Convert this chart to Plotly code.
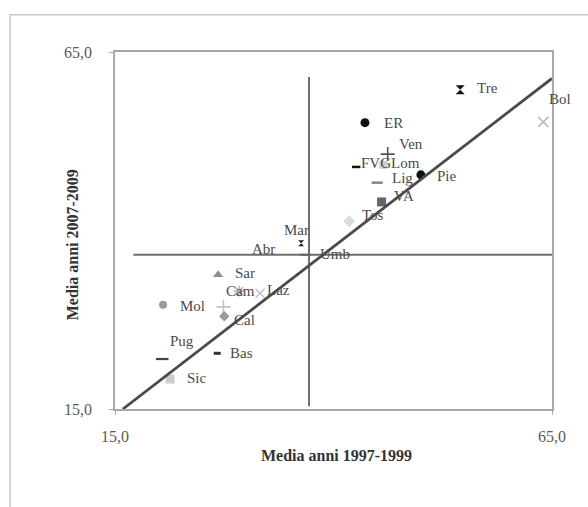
import plotly.graph_objects as go

# Regional averages: 1997-1999 (x) vs 2007-2009 (y)
regions = ["Tre", "Bol", "ER", "Ven", "FVG", "Lom", "Lig", "Pie", "VA", "Tos",
           "Mar", "Abr", "Umb", "Sar", "Cam", "Laz", "Mol", "Cal", "Pug", "Bas", "Sic"]
avg_1997_1999 = [54.5, 64.0, 43.6, 46.2, 42.6, 45.7, 45.0, 50.0, 45.5, 41.8,
                 36.3, 27.4, 36.8, 26.8, 29.2, 31.6, 20.5, 27.5, 20.4, 26.7, 21.3]
avg_2007_2009 = [59.7, 55.2, 55.1, 50.7, 48.9, 49.2, 46.7, 47.8, 44.0, 41.3,
                 38.2, 29.3, 36.6, 33.8, 31.5, 31.2, 29.6, 28.0, 22.0, 22.8, 19.2]

# Linear trend and the two mean lines
trend_x = [15.9, 65.0]
trend_y = [15.0, 61.3]
mean_x = 37.2
mean_y = 36.6
mean_x_span = [15.4, 61.5]
mean_y_span = [17.1, 65.7]

axis_ticks = [15, 65]
axis_tick_text = ["15,0", "65,0"]

# marker style per region: symbol, size, colour, line width
styles = {
    "Tre": ("hourglass", 9, "#111111", 0),
    "Bol": ("x-thin-open", 10, "#b5b5b5", 1.6),
    "ER": ("circle", 9, "#111111", 0),
    "Ven": ("cross-thin-open", 10, "#555555", 1.6),
    "FVG": ("line-ew-open", 6, "#111111", 2.5),
    "Lom": ("square", 8, "#cfcfcf", 0),
    "Lig": ("line-ew-open", 8, "#8a8a8a", 2.6),
    "Pie": ("circle", 9, "#111111", 0),
    "VA": ("square", 9, "#666666", 0),
    "Tos": ("diamond", 9, "#dcdcdc", 0),
    "Mar": ("hourglass", 6, "#222222", 0),
    "Abr": ("cross-thin-open", 10, "#c4c4c4", 1.6),
    "Umb": ("line-ew-open", 8, "#666666", 2),
    "Sar": ("triangle-up", 9, "#8f8f8f", 0),
    "Cam": ("asterisk-open", 9, "#b0b0b0", 1.4),
    "Laz": ("x-thin-open", 9, "#c0c0c0", 1.4),
    "Mol": ("circle", 8, "#9a9a9a", 0),
    "Cal": ("diamond", 8, "#9a9a9a", 0),
    "Pug": ("line-ew-open", 9, "#444444", 2.2),
    "Bas": ("line-ew-open", 5, "#333333", 3),
    "Sic": ("square", 9, "#cccccc", 0),
}

# label offsets in pixels (right, up) from each marker
label_shift = {
    "Tre": (15, 2), "Bol": (4, 23), "ER": (17, 0), "Ven": (9, 10),
    "FVG": (3, 4), "Lom": (6, 2), "Lig": (13, 5), "Pie": (14, -1),
    "VA": (10, 6), "Tos": (11, 6), "Mar": (-19, 13), "Abr": (27, 58),
    "Umb": (12, 1), "Sar": (15, 2), "Cam": (-15, 0), "Laz": (5, 3),
    "Mol": (15, -1), "Cal": (8, -4), "Pug": (6, 18), "Bas": (11, 0),
    "Sic": (15, 1),
}

serif = "Liberation Serif"
fig = go.Figure()

# mean reference lines
fig.add_trace(go.Scatter(x=[mean_x, mean_x], y=mean_x_span, mode="lines",
                         line=dict(color="#6e6e6e", width=2), hoverinfo="skip",
                         showlegend=False, cliponaxis=False))
fig.add_trace(go.Scatter(x=mean_y_span, y=[mean_y, mean_y], mode="lines",
                         line=dict(color="#6e6e6e", width=2), hoverinfo="skip",
                         showlegend=False, cliponaxis=False))

# regional points
for name, xv, yv in zip(regions, avg_1997_1999, avg_2007_2009):
    sym, size, col, lw = styles[name]
    fig.add_trace(go.Scatter(
        x=[xv], y=[yv], mode="markers", name=name, showlegend=False,
        marker=dict(symbol=sym, size=size, color=col,
                    line=dict(color=col, width=lw)),
        cliponaxis=False))

# trend line on top
fig.add_trace(go.Scatter(x=trend_x, y=trend_y, mode="lines",
                         line=dict(color="#4a4a4a", width=2.8), hoverinfo="skip",
                         showlegend=False, cliponaxis=False))

annotations = []
for name, xv, yv in zip(regions, avg_1997_1999, avg_2007_2009):
    dx, dy = label_shift[name]
    annotations.append(dict(
        x=xv, y=yv, xref="x", yref="y", text=name, showarrow=False,
        xanchor="left", yanchor="middle", xshift=dx, yshift=dy,
        font=dict(family=serif, size=15, color="#4a4a4a")))

annotations.append(dict(
    x=0.508, y=-0.13, xref="paper", yref="paper", text="<b>Media anni 1997-1999</b>",
    showarrow=False, xanchor="center", yanchor="middle",
    font=dict(family=serif, size=16, color="#333333")))
annotations.append(dict(
    x=-0.098, y=0.459, xref="paper", yref="paper", text="<b>Media anni 2007-2009</b>",
    showarrow=False, xanchor="center", yanchor="middle", textangle=-90,
    font=dict(family=serif, size=16, color="#333333")))

fig.update_layout(
    width=588, height=507,
    margin=dict(l=115, r=36, t=52, b=98),
    paper_bgcolor="white", plot_bgcolor="white",
    annotations=annotations,
    shapes=[dict(type="rect", xref="paper", yref="paper",
                 x0=-0.240, y0=-1.0, x1=2.0, y1=1.104,
                 line=dict(color="#c8c8c8", width=1.5), layer="below")],
)

axis_common = dict(
    range=[15, 65], tickvals=axis_ticks, ticktext=axis_tick_text,
    showgrid=False, zeroline=False, showline=True, mirror=True,
    linecolor="#a8a8a8", linewidth=1.5, ticks="outside", ticklen=4,
    tickcolor="#a8a8a8", tickfont=dict(family=serif, size=16, color="#5a5a5a"),
)
fig.update_xaxes(**axis_common, ticklabelstandoff=8)
fig.update_yaxes(**axis_common, ticklabelstandoff=14)

fig.write_html("out.html")
